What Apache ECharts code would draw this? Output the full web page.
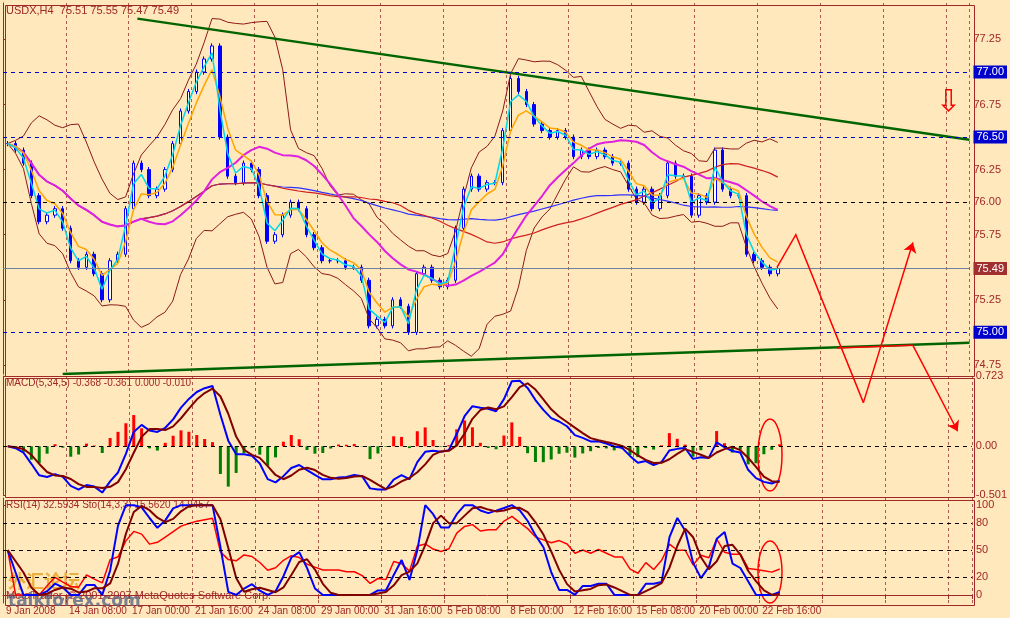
<!DOCTYPE html><html><head><meta charset="utf-8">
<script src="https://cdn.jsdelivr.net/npm/echarts@6/dist/echarts.min.js"></script>
<style>body{margin:0;background:#FFE8BC}#c{width:1010px;height:618px}</style></head><body><div id="c"></div>
<script>
const closes=[76.45,76.40,76.30,76.05,75.85,75.90,75.95,75.80,75.55,75.50,75.60,75.45,75.25,75.55,75.60,75.95,76.30,76.25,76.05,76.10,
76.25,76.45,76.70,76.85,77.00,77.10,77.20,76.50,76.20,76.15,76.30,76.25,76.05,75.70,75.75,75.90,76.00,75.95,75.75,75.65,
75.55,75.55,75.55,75.50,75.50,75.40,75.05,75.10,75.05,75.25,75.20,75.00,75.45,75.50,75.40,75.35,75.40,75.80,76.10,76.20,
76.10,76.15,76.15,76.55,76.95,76.85,76.75,76.60,76.55,76.50,76.55,76.50,76.35,76.40,76.35,76.40,76.35,76.30,76.30,76.10,
76.00,76.10,75.95,76.05,76.30,76.20,76.20,75.90,76.05,76.00,76.40,76.10,76.05,76.05,75.60,75.55,75.50,75.45,75.49];
const dateLabels=["9 Jan 2008","14 Jan 08:00","17 Jan 00:00","21 Jan 16:00","24 Jan 08:00","29 Jan 00:00","31 Jan 16:00","5 Feb 08:00","8 Feb 00:00","12 Feb 16:00","15 Feb 08:00","20 Feb 00:00","22 Feb 16:00"];
const priceTicks=[77.25,77.00,76.75,76.50,76.25,76.00,75.75,75.49,75.25,75.00,74.75];
const upperTrend=[[17.1,77.41],[123,76.48]];
const lowerTrend=[[7.6,74.68],[123,74.92]];
const forecastPath=[[98.5,75.50],[100.9,75.75],[109.5,74.46]];
const forecastArrow1=[[109.5,74.46],[115.8,75.69]];
const forecastPath2=[[106.1,74.88],[115.8,74.90]];
const forecastArrow2=[[115.8,74.90],[121.5,74.24]];
const OFF=0.6;
const FONT='Liberation Sans';
const candles=closes.map((c,i)=>{const o=i?closes[i-1]:c;return [i+OFF,o,c,Math.min(o,c)-0.02,Math.max(o,c)+0.02];});
function sma(a,n){return a.map((v,i)=>{const s=a.slice(Math.max(0,i-n+1),i+1);return s.reduce((p,q)=>p+q,0)/s.length;});}
function ema(a,n){const k=2/(n+1);let e=a[0];return a.map(v=>(e=v*k+e*(1-k)));}
function bands(a,n,m){const mid=sma(a,n);return mid.map((mu,i)=>{const s=a.slice(Math.max(0,i-n+1),i+1);const sd=Math.sqrt(s.reduce((p,q)=>p+(q-mu)**2,0)/s.length);return [mu+m*sd,mu-m*sd];});}
const pair=a=>a.map((v,i)=>[i+OFF,v]);
const bb=bands(closes,10,2);
const maBlue=sma(closes,60),maRed=sma(closes,35),maMag=sma(closes,18),maOr=ema(closes,4),maCy=ema(closes,2);
const macd=ema(closes,3).map((v,i)=>v-ema(closes,17)[i]);
const sig=sma(macd,3);
const hist=macd.map((v,i)=>(v-sig[i])*1.5);
function rsi(a,n){let g=0,l=0;return a.map((v,i)=>{if(!i)return 50;const d=v-a[i-1];g=(g*(n-1)+Math.max(d,0))/n;l=(l*(n-1)+Math.max(-d,0))/n;return l===0?100:100-100/(1+g/l);});}
const rs=rsi(closes,7);
const kraw=closes.map((c,i)=>{const s=closes.slice(Math.max(0,i-6),i+1);const lo=Math.min(...s),hi=Math.max(...s);return hi===lo?50:(c-lo)/(hi-lo)*100;});
const K=sma(kraw,2),D=sma(K,3);
const brown='#A02828',grid=[{left:3,right:38,top:3,height:371},{left:3,right:38,top:376,height:119},{left:3,right:38,top:498,height:105}];
const xAxis=[0,1,2].map(g=>({type:'value',gridIndex:g,min:0,max:123,interval:8,position:'bottom',
 axisLine:{show:g==2,lineStyle:{color:brown}},axisTick:{show:g==2,lineStyle:{color:brown},length:4},
 axisLabel:{show:g==2,align:'left',color:brown,fontSize:10,fontFamily:FONT,margin:3,padding:[0,0,0,3],formatter:v=>dateLabels[v/8]||''},
 splitLine:{show:true,lineStyle:{color:'#8B2020',type:[3,3],opacity:0.7}}}));
const box=(v)=>v===75.49?'{c|75.49}':([77,76.5,75].includes(v)?'{b|'+v.toFixed(2)+'}':v.toFixed(2));
const yAxis=[
 {type:'value',gridIndex:0,position:'right',min:74.68,max:77.53,splitLine:{show:false},axisLine:{show:true,lineStyle:{color:brown}},
  axisTick:{customValues:priceTicks,lineStyle:{color:brown},length:3},
  axisLabel:{customValues:priceTicks,color:brown,fontSize:11,fontFamily:FONT,margin:4,formatter:box,
   rich:{b:{backgroundColor:'#0000CC',color:'#fff',padding:[1,3],fontSize:11,fontFamily:FONT},c:{backgroundColor:'#A03030',color:'#fff',padding:[1,3],fontSize:11,fontFamily:FONT}}}},
 {type:'value',gridIndex:1,position:'right',min:-0.501,max:0.723,splitLine:{show:false},axisLine:{show:true,lineStyle:{color:brown}},
  axisTick:{customValues:[0.723,0,-0.501],lineStyle:{color:brown},length:3},
  axisLabel:{customValues:[0.723,0,-0.501],color:brown,fontSize:11,fontFamily:FONT,margin:4,formatter:v=>v===0?'0.00':String(v)}},
 {type:'value',gridIndex:2,position:'right',min:-9,max:108,splitLine:{show:false},axisLine:{show:true,lineStyle:{color:brown}},
  axisTick:{customValues:[100,80,50,20,0],lineStyle:{color:brown},length:3},
  axisLabel:{customValues:[100,80,50,20,0],color:brown,fontSize:11,fontFamily:FONT,margin:4}}];
const L=(data,color,w,g,extra)=>Object.assign({type:'line',xAxisIndex:g||0,yAxisIndex:g||0,data,symbol:'none',lineStyle:{color,width:w||1},silent:true},extra||{});
const hl=(vals,color,g)=>({type:'line',xAxisIndex:g,yAxisIndex:g,data:[],markLine:{symbol:'none',silent:true,label:{show:false},data:vals.map(v=>({yAxis:v,lineStyle:{color,type:[4,4],width:1}}))}});
const red={color:'#FF0000',width:1.5,opacity:1};
const series=[
 hl([77,76.5,75],'#0000CC',0),hl([76],'#000',0),
 {type:'line',data:[],markLine:{symbol:'none',silent:true,label:{show:false},data:[{yAxis:75.49,lineStyle:{color:'#7080A0',type:'solid',width:1}}]}},
 L(pair(bb.map(b=>b[0])),'#8B1A1A',1),L(pair(bb.map(b=>b[1])),'#8B1A1A',1),
 L(pair(maBlue),'#3030FF',1.2),L(pair(maRed),'#D02020',1.2),L(pair(maMag),'#E020E0',2),
 {type:'candlestick',encode:{x:0,y:[1,2,3,4]},data:candles,barWidth:3,itemStyle:{color:'#FFFFFF',color0:'#0000FF',borderColor:'#0000FF',borderColor0:'#0000FF'}},
 L(pair(maOr),'#FFA500',1.5),L(pair(maCy),'#00D8E8',1.5),
 L(upperTrend,'#006400',2.5),L(lowerTrend,'#006400',2.5),
 {type:'lines',coordinateSystem:'cartesian2d',polyline:true,clip:false,z:20,lineStyle:red,data:[{coords:forecastPath},{coords:forecastPath2}]},
 {type:'lines',coordinateSystem:'cartesian2d',clip:false,z:20,symbol:['none','arrow'],symbolSize:10,lineStyle:red,data:[{coords:forecastArrow1},{coords:forecastArrow2}]},
 hl([0],'#000',1),
 {type:'bar',xAxisIndex:1,yAxisIndex:1,barWidth:3,data:hist.map((v,i)=>({value:[i+OFF,v],itemStyle:{color:v>=0?'#FF0000':'#008000'}}))},
 L(pair(macd),'#0000FF',2,1),L(pair(sig),'#800000',2,1),
 hl([80,50,20],'#000',2),
 L(pair(rs),'#FF0000',1.5,2),L(pair(K),'#0000FF',2,2),L(pair(D),'#800000',2,2)
];
const ch=echarts.init(document.getElementById('c'));
ch.setOption({backgroundColor:'#FFE8BC',animation:false,grid,xAxis,yAxis,series,
 graphic:[
  {type:'rect',left:3,top:3,shape:{width:969,height:371},style:{fill:'none',stroke:brown}},
  {type:'rect',left:3,top:376,shape:{width:969,height:119},style:{fill:'none',stroke:brown}},
  {type:'rect',left:3,top:498,shape:{width:969,height:105},style:{fill:'none',stroke:brown}},
  {type:'text',left:6,top:5,style:{text:'USDX,H4  75.51 75.55 75.47 75.49',fill:brown,font:'11px Liberation Sans'}},
  {type:'text',left:6,top:378,style:{text:'MACD(5,34,5) -0.368 -0.361 0.000 -0.010',fill:brown,font:'10px Liberation Sans'}},
  {type:'text',left:6,top:500,style:{text:'RSI(14) 32.5934 Sto(14,3,3) 15.5620 14.9457',fill:brown,font:'10px Liberation Sans'}},
  {type:'text',left:6,top:590,style:{text:'MetaTrader, © 2001-2007 MetaQuotes Software Corp.',fill:brown,font:'11px Liberation Sans'}},
  {type:'text',left:8,top:572,style:{text:'外汇论坛',fill:'rgba(230,160,30,0.8)',font:'bold 18px "Noto Sans CJK SC"'}},
  {type:'text',left:8,top:593,style:{text:'talkforex.com',fill:'rgba(90,100,130,0.8)',font:'bold 17px DejaVu Sans'}},
  {type:'text',left:936,top:88,style:{text:'⇩',fill:'#FF0000',font:'30px DejaVu Sans'}},
  {type:'ellipse',shape:{cx:770,cy:455,rx:12,ry:36},style:{fill:'none',stroke:'#FF0000',lineWidth:1.5}},
  {type:'ellipse',shape:{cx:770,cy:572,rx:12,ry:31},style:{fill:'none',stroke:'#FF0000',lineWidth:1.5}}
 ]});
</script></body></html>
